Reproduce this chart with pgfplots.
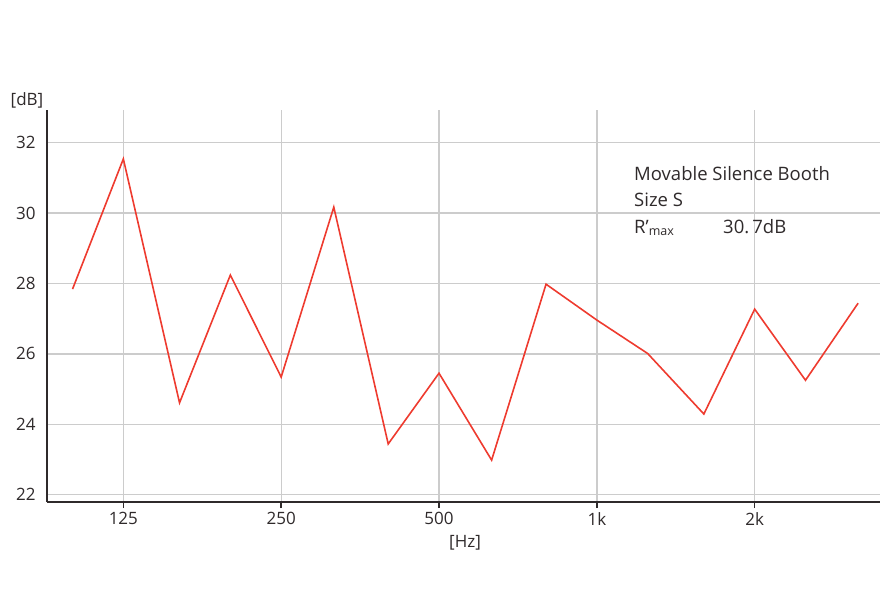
\documentclass[border=0pt]{standalone}
\usepackage{fontspec}
\setmainfont{Open Sans}
\usepackage{pgfplots}
\pgfplotsset{compat=1.18}
\definecolor{axdark}{HTML}{2F2A2B}
\definecolor{gridgray}{HTML}{CCCCCC}
\definecolor{redline}{HTML}{EE3B2F}
\begin{document}
\begin{tikzpicture}[x=1pt,y=1pt]
\path[use as bounding box] (0,0) rectangle (880,600);
\begin{axis}[
  at={(47pt,98pt)}, anchor=south west,
  scale only axis, width=833pt, height=392pt,
  xmode=log,
  xmin=89.4, xmax=3468,
  ymin=21.79, ymax=32.93,
  axis x line*=bottom, axis y line*=left,
  x axis line style={-, draw=axdark, line width=2pt},
  y axis line style={-, draw=axdark, line width=2pt},
  xtick={125,250,500,1000,2000},
  xticklabels={125,250,500,1k,2k},
  minor xtick={},
  ytick={22,24,26,28,30,32},
  grid=major,
  major grid style={draw=gridgray, line width=1.3pt},
  tick align=outside,
  major tick length=6pt,
  xtick style={draw=axdark, line width=1.5pt},
  ytick style={draw=none},
  ticklabel style={font=\fontsize{17}{20}\selectfont, text=axdark},
  xticklabel style={yshift=-1pt},
  yticklabel style={xshift=-2pt},
  /pgf/number format/assume math mode=true,
  clip=false,
]
\addplot[redline, line width=1.6pt] coordinates {
 (100,27.84) (125,31.54) (160,24.61) (200,28.24) (250,25.34) (315,30.17)
 (400,23.44) (500,25.45) (630,22.98) (800,27.98) (1000,26.96) (1250,26.01)
 (1600,24.29) (2000,27.27) (2500,25.25) (3150,27.44)
};
\end{axis}
\node[anchor=center, text=axdark, font=\fontsize{17}{20}\selectfont] at (27,500) {[dB]};
\node[anchor=center, text=axdark, font=\fontsize{17}{20}\selectfont] at (465,57) {[Hz]};
\node[anchor=west, inner sep=0pt, text=axdark, font=\fontsize{18.5}{22}\selectfont] at (634,426) {Movable Silence Booth};
\node[anchor=west, inner sep=0pt, text=axdark, font=\fontsize{18.5}{22}\selectfont] at (634,400) {Size S};
\node[anchor=base west, inner sep=0pt, text=axdark, font=\fontsize{18.5}{22}\selectfont] at (634,366) {R’{\fontsize{12.5}{14}\selectfont\raisebox{-2pt}{max}}};
\node[anchor=base west, inner sep=0pt, text=axdark, font=\fontsize{18.5}{22}\selectfont] at (723,366) {30.\,7dB};
\end{tikzpicture}
\end{document}
